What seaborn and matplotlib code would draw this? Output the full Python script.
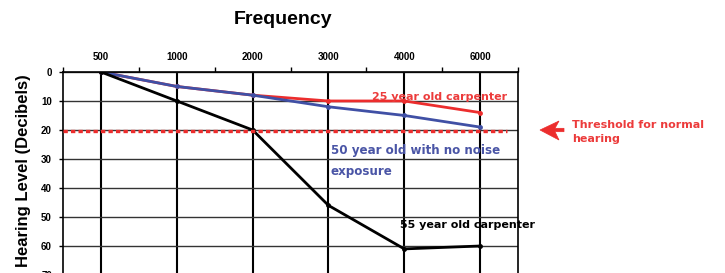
import matplotlib
matplotlib.use("Agg")
import matplotlib.pyplot as plt
import seaborn as sns
import pandas as pd
import numpy as np
from matplotlib.patches import Polygon

frequencies = ["500", "1000", "2000", "3000", "4000", "6000"]
carpenter25 = [0, 5, 8, 10, 10, 14]
noexposure50 = [0, 5, 8, 12, 15, 19]
carpenter55 = [0, 10, 20, 46, 61, 60]
threshold = 20
y_ticks = [0, 10, 20, 30, 40, 50, 60, 70]

RED = "#ec2d2d"
BLUE = "#4050a5"
BLACK = "#000000"
TXT_RED = "#ec3b3b"
TXT_BLUE = "#4a55a6"

sns.set_style("white")
plt.rcParams['font.family'] = ['Liberation Sans', 'DejaVu Sans']
plt.rcParams['text.color'] = 'black'
plt.rcParams['xtick.color'] = 'black'
plt.rcParams['ytick.color'] = 'black'

rows = []
for name, vals in [("25", carpenter25), ("50", noexposure50), ("55", carpenter55)]:
    for f, v in zip(frequencies, vals):
        rows.append({"freq": f, "level": v, "series": name})
df = pd.DataFrame(rows)

W, H = 725, 273
fig = plt.figure(figsize=(7.25, 2.73), dpi=100)
ax = fig.add_axes([0.0869, -0.0286, 0.6276, 0.765])

sns.lineplot(data=df, x="freq", y="level", hue="series",
             palette={"25": RED, "50": BLUE, "55": BLACK},
             hue_order=["25", "50", "55"],
             marker="o", markersize=3.5, markeredgewidth=0, linewidth=2,
             legend=False, ax=ax, sort=False)

ax.set_xlim(-0.5, 5.5)
ax.set_ylim(72, 0)

ax.hlines(threshold + 0.3, -0.5, 5.35, colors=RED, linestyles=(0, (1.3, 0.95)), linewidth=2.4, zorder=5)

ax.xaxis.tick_top()
ax.set_xticks(range(len(frequencies)))
ax.set_xticklabels(frequencies, fontsize=7, fontweight="bold")
ax.set_xticks(np.arange(-0.5, 5.6, 1), minor=True)
ax.tick_params(axis="x", which="major", length=0, pad=7)
ax.tick_params(axis="x", which="minor", length=3.5, width=1, color="black", top=True, bottom=False)
ax.set_yticks(y_ticks)
ax.set_yticklabels([str(t) for t in y_ticks], fontsize=7, fontweight="bold")
ax.tick_params(axis="y", length=3, width=1, color="black", left=True, pad=5)
ax.set_xlabel("")
ax.set_ylabel("")

ax.grid(True, axis="x", which="major", color="black", linewidth=1.5)
ax.grid(True, axis="y", which="major", color="#333333", linewidth=1)
ax.set_axisbelow(True)
for s in ax.spines.values():
    s.set_color("black")
    s.set_linewidth(1.2)

fig.text(283/W, 1-19/H, "Frequency", ha="center", va="center", fontsize=14, fontweight="bold")
fig.text(24/W, 1-171/H, "Hearing Level (Decibels)", ha="center", va="center", rotation=90,
         fontsize=12, fontweight="bold")

ann_font = ['DejaVu Sans']
ax.text(3.58, 8.6, "25 year old carpenter", color=TXT_RED, fontsize=8, fontweight="bold",
        va="center", ha="left", family=ann_font)
ax.text(3.03, 30.7, "50 year old with no noise\nexposure", color=TXT_BLUE, fontsize=8.6, fontweight="bold",
        va="center", ha="left", linespacing=1.75, family=ann_font)
ax.text(3.94, 52.8, "55 year old carpenter", color=BLACK, fontsize=8, fontweight="bold",
        va="center", ha="left", family=ann_font)

fig.text(572/W, 1-132/H, "Threshold for normal\nhearing", color=TXT_RED, fontsize=8, fontweight="bold",
         va="center", ha="left", linespacing=1.55, family=ann_font)

arrow_px = [(540, 130), (559, 121), (555, 128.3), (564, 128.3), (564, 131.7),
            (555, 131.7), (559, 140)]
arrow = Polygon([(x / W, 1 - y / H) for x, y in arrow_px], closed=True,
                transform=fig.transFigure, facecolor=RED, edgecolor=RED, linewidth=0.5)
fig.patches.append(arrow)

fig.savefig("out.png", dpi=100)
